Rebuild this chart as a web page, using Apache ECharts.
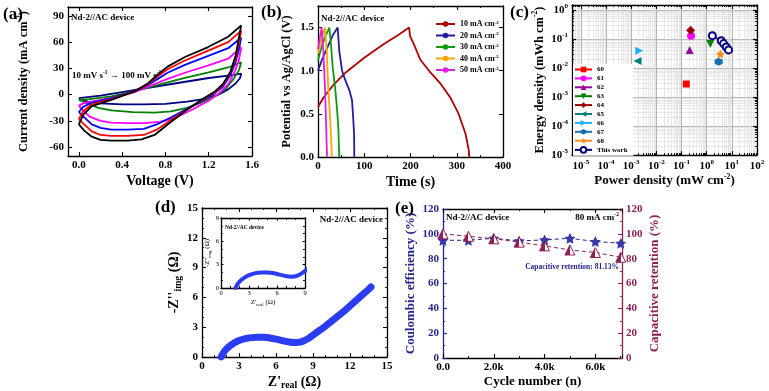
<!DOCTYPE html>
<html>
<head>
<meta charset="utf-8">
<script src="https://cdn.jsdelivr.net/npm/echarts@6.0.0/dist/echarts.min.js"></script>
<style>
  html, body { margin: 0; padding: 0; background: #fff; }
  #chart { width: 769px; height: 391px; }
</style>
</head>
<body>
<div id="chart"></div>
<script>
// ---- (a) CV loops, [V, mA cm-2], forward sweep then reverse ----
const cvBlack = [[0,-34],[0.04,-23],[0.12,-13],[0.3,-6],[0.52,4],[0.64,13],[0.73,23],[0.82,32],[0.98,43],[1.19,54],[1.38,66],[1.5,79],
  [1.48,66],[1.45,45],[1.4,26],[1.33,12],[1.26,4],[1.13,-6],[0.98,-19],[0.82,-34],[0.7,-46],[0.58,-51],[0.45,-52.5],[0.3,-52.5],[0.2,-51.5],[0.12,-48],[0.05,-41],[0,-34]];
const cvRed = [[0,-28],[0.04,-19],[0.12,-11],[0.3,-5],[0.52,4],[0.64,12],[0.73,21],[0.82,29],[0.98,39],[1.19,50],[1.38,60],[1.5,73],
  [1.48,60],[1.45,42],[1.4,25],[1.33,11],[1.26,3],[1.13,-7],[1.0,-17],[0.85,-29],[0.72,-40],[0.6,-46],[0.45,-47],[0.3,-47],[0.2,-46],[0.12,-42],[0.05,-34],[0,-28]];
const cvBlue = [[0,-20],[0.04,-14],[0.12,-9],[0.3,-4],[0.52,4],[0.64,11],[0.73,18],[0.82,25],[0.98,34],[1.19,44],[1.38,53],[1.5,65],
  [1.48,52],[1.45,38],[1.4,22],[1.33,9],[1.26,2],[1.13,-8],[1.0,-16],[0.85,-26],[0.72,-34],[0.6,-39],[0.45,-40],[0.3,-40],[0.2,-38],[0.12,-34],[0.05,-26],[0,-20]];
const cvMagenta = [[0,-12.5],[0.04,-10],[0.15,-7],[0.3,-4],[0.52,3],[0.7,12],[0.82,18],[0.98,25],[1.19,33],[1.38,41],[1.5,54],
  [1.48,40],[1.44,26],[1.38,12],[1.3,2],[1.2,-7],[1.05,-17],[0.9,-26],[0.75,-31],[0.6,-32.5],[0.45,-32.5],[0.3,-32],[0.2,-30],[0.1,-25],[0.04,-18],[0,-12.5]];
const cvGreen = [[0,-6],[0.1,-5],[0.3,-2],[0.52,4],[0.7,10],[0.82,14],[0.98,19],[1.19,25],[1.38,31],[1.5,37],
  [1.48,28],[1.43,18],[1.36,7],[1.26,-2],[1.13,-9],[1.0,-15],[0.85,-19],[0.7,-20.5],[0.5,-20],[0.3,-18],[0.18,-15],[0.08,-10],[0,-6]];
const cvNavy = [[0,-4],[0.2,-1],[0.4,3],[0.6,7],[0.8,11],[1.0,15],[1.2,19],[1.4,22],[1.5,24],
  [1.49,19],[1.45,13],[1.38,6],[1.29,0],[1.15,-5],[1.0,-8],[0.8,-10.5],[0.6,-11],[0.4,-11],[0.2,-10],[0.08,-8],[0,-4]];

// ---- (b) GCD, [s, V] ----
const gcd10 = [[0,0.58],[12,0.69],[34,0.84],[60,0.98],[100,1.15],[140,1.3],[175,1.42],[197,1.5],[199,1.4],[207,1.31],[221,1.13],[243,0.98],[265,0.85],[286,0.69],[304,0.5],[319,0.27],[326,0.08],[327,0]];
const gcd20 = [[0,1.0],[8,1.12],[17,1.23],[32,1.41],[42.5,1.5],[46,1.23],[52,1.0],[59,0.89],[68,0.77],[73.5,0.66],[76,0.46],[78,0.27],[78.5,0]];
const gcd30 = [[0,1.12],[8,1.28],[16,1.4],[24.5,1.5],[28,1.31],[32,1.03],[37,0.8],[41,0.57],[44,0.34],[46,0]];
const gcd40 = [[0,1.2],[7,1.35],[15,1.5],[19,1.23],[22,0.81],[26.6,0.42],[30,0]];
const gcd50 = [[0,1.25],[4,1.38],[8,1.5],[11.5,1.23],[15,0.81],[17.3,0.42],[19.5,0]];
const gcdNames = ['10', '20', '30', '40', '50'];

// ---- (c) Ragone, [mW cm-2, mWh cm-2] ----
const ref60 = [[0.155, 0.0028]];
const ref61 = [[0.24, 0.13]];
const ref62 = [[0.21, 0.042]];
const ref63 = [[1.4, 0.067]];
const ref64 = [[0.23, 0.2]];
const ref65 = [[0.0018, 0.0175]];
const ref66 = [[0.0021, 0.039]];
const ref67 = [[3.0, 0.0165]];
const ref68 = [[3.5, 0.03]];
const thisWork = [[1.68, 0.13], [3.8, 0.087], [4.7, 0.069], [6.0, 0.053], [7.4, 0.042]];

// ---- (d) Nyquist, [Z'real, -Z''img] ----
const nyquist = [[1.55,0],[1.7,0.35],[1.9,0.7],[2.2,1.05],[2.6,1.4],[3.0,1.65],[3.5,1.85],[4.0,1.95],[4.5,2.0],[5.0,1.98],[5.5,1.92],
  [6.0,1.8],[6.5,1.65],[7.0,1.52],[7.4,1.45],[7.8,1.47],[8.2,1.6],[8.6,1.85],[9.0,2.2],[9.5,2.65],[10.0,3.1],[10.5,3.6],[11.0,4.1],
  [11.5,4.6],[12.0,5.15],[12.5,5.7],[13.0,6.25],[13.5,6.8],[13.7,7.05]];

// ---- (e) cycling ----
const cycles = [0, 1000, 2000, 3000, 4000, 5000, 6000, 7000];
const coulombic = [94.8, 94.8, 96.4, 94.3, 95.1, 96.4, 93.8, 92.4];
const retention = [100, 98, 96, 93.3, 90.3, 87, 85, 81.13];

const FONT = "'Liberation Serif','Times New Roman',serif";
const NAVY = '#24248f';
const MAROON = '#8e1f52';
const STAR = 'path://M0,-10L2.94,-4.05L9.51,-3.09L4.76,1.55L5.88,8.09L0,5L-5.88,8.09L-4.76,1.55L-9.51,-3.09L-2.94,-4.05Z';
const HEX = 'path://M0,-10L8.66,-5L8.66,5L0,10L-8.66,5L-8.66,-5Z';

function ax(o) {
  const col = o.color || '#000';
  const a = {
    type: o.log ? 'log' : 'value',
    gridIndex: o.grid,
    position: o.pos,
    min: o.min,
    max: o.max,
    axisLine: { show: true, onZero: false, lineStyle: { color: col, width: 1.3 } },
    axisTick: { show: true, inside: true, length: o.tick || 4, lineStyle: { color: col, width: 1.1 } },
    minorTick: { show: !!o.minor, splitNumber: o.minor || 5, length: 2, lineStyle: { color: col, width: 0.9 } },
    axisLabel: {
      show: !!o.labels, color: col, fontFamily: FONT, fontWeight: o.thin ? 'normal' : 'bold',
      fontSize: o.fs || 11, margin: o.margin || 4, formatter: o.fmt,
      showMinLabel: o.hideMin ? false : null, showMaxLabel: o.hideMax ? false : null,
      rich: o.rich
    },
    splitLine: { show: false }
  };
  if (o.log) a.logBase = 10;
  if (o.interval) a.interval = o.interval;
  if (o.custom) {
    a.axisTick.customValues = o.custom;
    a.axisLabel.customValues = o.custom;
  }
  if (o.name) {
    const fs = o.nfs || 13;
    a.name = o.name;
    a.nameLocation = 'middle';
    a.nameGap = o.gap;
    a.nameTextStyle = {
      fontFamily: FONT, fontWeight: o.thin ? 'normal' : 'bold', fontSize: fs, color: col, lineHeight: Math.round(fs * 1.25),
      rich: {
        s: { fontFamily: FONT, fontWeight: 'bold', fontSize: fs * 0.6, color: col, verticalAlign: 'top', lineHeight: fs * 0.7 },
        u: { fontFamily: FONT, fontWeight: o.thin ? 'normal' : 'bold', fontSize: fs * 0.7, color: col, verticalAlign: 'bottom', lineHeight: fs * 0.7 }
      }
    };
  }
  return a;
}

function logFmt(v) {
  const e = Math.log10(v);
  const r = Math.round(e);
  if (Math.abs(e - r) > 1e-6) return '';
  return '{b|10}{s|' + (r < 0 ? '-' : '') + Math.abs(r) + '}';
}
const logRich = {
  b: { fontFamily: FONT, fontWeight: 'bold', fontSize: 11, lineHeight: 14, color: '#000' },
  s: { fontFamily: FONT, fontWeight: 'bold', fontSize: 7, lineHeight: 8, verticalAlign: 'top', color: '#000' }
};
const one = v => v.toFixed(1);

const grids = [
  { left: 68, top: 7, width: 184, height: 149 },
  { left: 318, top: 6, width: 185, height: 151 },
  { left: 572, top: 5, width: 185, height: 150 },
  { left: 202, top: 208, width: 185, height: 149 },
  { left: 221, top: 218, width: 84, height: 70, show: true, backgroundColor: '#fff', borderWidth: 0 },
  { left: 443, top: 209, width: 179, height: 149 }
].map(g => Object.assign({ containLabel: false, outerBoundsMode: 'none' }, g));

const cGrid = {
  splitLine: { show: true, lineStyle: { color: '#a3a3a3', width: 0.8 } },
  minorSplitLine: { show: true, lineStyle: { color: '#d8d8d8', width: 0.6 } }
};

const xAxes = [
  ax({ grid: 0, pos: 'bottom', min: -0.1, max: 1.6, custom: [0, 0.4, 0.8, 1.2, 1.6], labels: true, fmt: one, name: 'Voltage (V)', gap: 16, nfs: 14 }),
  ax({ grid: 0, pos: 'top', min: -0.1, max: 1.6, custom: [0, 0.4, 0.8, 1.2, 1.6] }),
  ax({ grid: 1, pos: 'bottom', min: 0, max: 400, interval: 100, minor: 2, labels: true, name: 'Time (s)', gap: 16, nfs: 14 }),
  ax({ grid: 1, pos: 'top', min: 0, max: 400, interval: 100, minor: 2 }),
  Object.assign(ax({ grid: 2, pos: 'bottom', log: true, min: Math.pow(10, -5.35), max: 100, minor: 9, labels: true, fmt: logFmt, rich: logRich, hideMin: true,
    name: 'Power density (mW cm{s|-2})', gap: 18, nfs: 13 }), cGrid),
  ax({ grid: 2, pos: 'top', log: true, min: Math.pow(10, -5.35), max: 100, minor: 9 }),
  ax({ grid: 3, pos: 'bottom', min: 0, max: 15, interval: 3, minor: 3, labels: true, name: "Z'{u|real} (Ω)", gap: 14, nfs: 14 }),
  ax({ grid: 3, pos: 'top', min: 0, max: 15, interval: 3, minor: 3 }),
  ax({ grid: 4, pos: 'bottom', min: 0, max: 9, interval: 3, minor: 3, tick: 2.5, labels: true, thin: true, fs: 6.5, margin: 2, name: "Z'{u|real} (Ω)", gap: 9, nfs: 7 }),
  ax({ grid: 4, pos: 'top', min: 0, max: 9, interval: 3, minor: 3, tick: 2.5 }),
  ax({ grid: 5, pos: 'bottom', min: 0, max: 7050, interval: 2000, minor: 2, labels: true, hideMax: true,
    fmt: v => v === 0 ? '0.0' : (v / 1000).toFixed(1) + 'k', name: 'Cycle number (n)', gap: 14, nfs: 13 }),
  ax({ grid: 5, pos: 'top', min: 0, max: 7050, interval: 2000, minor: 2 })
];

const yAxes = [
  ax({ grid: 0, pos: 'left', min: -70, max: 100, custom: [-60, -30, 0, 30, 60, 90], labels: true, name: 'Current density (mA cm{s|-2})', gap: 36, nfs: 12.5 }),
  ax({ grid: 0, pos: 'right', min: -70, max: 100, custom: [-60, -30, 0, 30, 60, 90] }),
  ax({ grid: 1, pos: 'left', min: 0, max: 1.75, custom: [0, 0.5, 1, 1.5], labels: true, fmt: one, name: 'Potential vs Ag/AgCl (V)', gap: 23, nfs: 12.5 }),
  ax({ grid: 1, pos: 'right', min: 0, max: 1.75, custom: [0, 0.5, 1, 1.5] }),
  Object.assign(ax({ grid: 2, pos: 'left', log: true, min: 1e-5, max: Math.pow(10, 0.17), minor: 9, labels: true, fmt: logFmt, rich: logRich, hideMax: true,
    name: 'Energy density (mWh cm{s|-2})', gap: 24, nfs: 12.5 }), cGrid),
  ax({ grid: 2, pos: 'right', log: true, min: 1e-5, max: Math.pow(10, 0.17), minor: 9 }),
  ax({ grid: 3, pos: 'left', min: 0, max: 15, interval: 3, minor: 3, labels: true, name: "-Z''{u|img} (Ω)", gap: 14, nfs: 14 }),
  ax({ grid: 3, pos: 'right', min: 0, max: 15, interval: 3, minor: 3 }),
  ax({ grid: 4, pos: 'left', min: 0, max: 9, interval: 3, minor: 3, tick: 2.5, labels: true, thin: true, fs: 6.5, margin: 2, name: "-Z''{u|img} (Ω)", gap: 7, nfs: 7 }),
  ax({ grid: 4, pos: 'right', min: 0, max: 9, interval: 3, minor: 3, tick: 2.5 }),
  ax({ grid: 5, pos: 'left', min: 0, max: 120, interval: 20, minor: 2, labels: true, color: NAVY, name: 'Coulombic efficiency (%)', gap: 19, nfs: 13 }),
  ax({ grid: 5, pos: 'right', min: 0, max: 120, interval: 20, minor: 2, labels: true, color: MAROON, name: 'Capacitive retention (%)', gap: 21, nfs: 13 })
];

function cvLine(data, color) {
  return { type: 'line', xAxisIndex: 0, yAxisIndex: 0, data: data, symbol: 'none', lineStyle: { color: color, width: 1.8 }, itemStyle: { color: color } };
}
function gcdLine(name, data, color) {
  return { name: name, type: 'line', xAxisIndex: 2, yAxisIndex: 2, data: data, symbol: 'none', lineStyle: { color: color, width: 1.8 }, itemStyle: { color: color } };
}
function ragone(name, data, color, symbol, size, rotate) {
  return {
    name: name, type: 'line', xAxisIndex: 4, yAxisIndex: 4, data: data, symbol: symbol, symbolSize: size || 8,
    symbolRotate: rotate || 0, lineStyle: { color: color, width: 1.5 }, itemStyle: { color: color }, z: 5
  };
}

const series = [
  cvLine(cvNavy, '#000080'),
  cvLine(cvGreen, '#008000'),
  cvLine(cvMagenta, '#ff00ff'),
  cvLine(cvBlue, '#0000ff'),
  cvLine(cvRed, '#ff0000'),
  cvLine(cvBlack, '#000000'),

  gcdLine('10', gcd10, '#b00000'),
  gcdLine('20', gcd20, '#1f1f9e'),
  gcdLine('30', gcd30, '#109a10'),
  gcdLine('40', gcd40, '#ffa500'),
  gcdLine('50', gcd50, '#e020e0'),

  ragone('60', ref60, '#ff0000', 'rect', 7),
  ragone('61', ref61, '#ff00ff', 'circle', 8),
  ragone('62', ref62, '#990099', 'triangle', 8),
  ragone('63', ref63, '#008000', 'triangle', 8, 180),
  ragone('64', ref64, '#990000', 'diamond', 9),
  ragone('65', ref65, '#008080', 'triangle', 8, 90),
  ragone('66', ref66, '#1ab2ff', 'triangle', 8, -90),
  ragone('67', ref67, '#1a6fb0', HEX, 8),
  ragone('68', ref68, '#ff8c1a', STAR, 9),
  {
    name: 'This work', type: 'line', xAxisIndex: 4, yAxisIndex: 4, data: thisWork, symbol: 'emptyCircle', symbolSize: 7,
    lineStyle: { color: '#000080', width: 1.5 }, itemStyle: { color: '#000080', borderWidth: 2.5 }, z: 6
  },

  {
    type: 'line', xAxisIndex: 6, yAxisIndex: 6, data: nyquist, symbol: 'none', smooth: 0.3,
    lineStyle: { color: '#2b3df2', width: 7, cap: 'round' }
  },
  {
    type: 'line', xAxisIndex: 8, yAxisIndex: 8, data: nyquist, symbol: 'none', smooth: 0.3, clip: true,
    lineStyle: { color: '#2b3df2', width: 4, cap: 'round' }
  },

  {
    type: 'line', xAxisIndex: 10, yAxisIndex: 10, data: cycles.map((c, i) => [c, coulombic[i]]),
    symbol: STAR, symbolSize: 11, lineStyle: { color: NAVY, width: 1, type: [4, 3] }, itemStyle: { color: '#3838a8' }, z: 4
  },
  {
    type: 'line', xAxisIndex: 10, yAxisIndex: 11, data: cycles.map((c, i) => [c, retention[i]]),
    symbol: 'triangle', symbolSize: 10, lineStyle: { color: MAROON, width: 1, type: [4, 3] },
    itemStyle: {
      borderColor: MAROON, borderWidth: 1,
      color: { type: 'linear', x: 0, y: 0, x2: 1, y2: 0, colorStops: [
        { offset: 0, color: MAROON }, { offset: 0.5, color: MAROON }, { offset: 0.5, color: '#fff' }, { offset: 1, color: '#fff' }] }
    },
    z: 5
  }
];

function txt(x, y, text, size, extra) {
  const fs = size;
  const fill = (extra && extra.fill) || '#000';
  return Object.assign({
    type: 'text', left: x, top: y, z: 50,
    style: {
      text: text, fontFamily: FONT, fontWeight: 'bold', fontSize: fs, fill: fill,
      lineHeight: fs + 3,
      rich: { s: { fontFamily: FONT, fontWeight: 'bold', verticalAlign: 'top', fontSize: fs * 0.62, lineHeight: fs * 0.7, fill: fill } }
    }
  }, extra && extra.pos);
}

const option = {
  animation: false,
  backgroundColor: '#fff',
  textStyle: { fontFamily: FONT },
  grid: grids,
  xAxis: xAxes,
  yAxis: yAxes,
  legend: [
    {
      data: gcdNames, left: 430, top: 15, orient: 'vertical', itemWidth: 19, itemHeight: 7, itemGap: 3.5,
      formatter: n => n + ' mA cm{s|-2}',
      textStyle: {
        fontFamily: FONT, fontWeight: 'bold', fontSize: 8, color: '#000', lineHeight: 8,
        rich: { s: { fontFamily: FONT, fontWeight: 'bold', fontSize: 5, verticalAlign: 'top', lineHeight: 5 } }
      }
    },
    {
      data: ['60', '61', '62', '63', '64', '65', '66', '67', '68', 'This work'],
      left: 573, top: 64, orient: 'vertical', itemWidth: 17, itemHeight: 7, itemGap: 1.9,
      backgroundColor: '#fff', padding: [2, 6, 2, 1],
      textStyle: { fontFamily: FONT, fontWeight: 'bold', fontSize: 7, color: '#000', lineHeight: 7 }
    }
  ],
  series: series,
  graphic: [
    txt(3, 5, '(a)', 17),
    txt(261, 3, '(b)', 17),
    txt(510, 3, '(c)', 17),
    txt(155, 198, '(d)', 17),
    txt(395, 199, '(e)', 17),
    txt(71, 12, 'Nd-2//AC device', 9),
    txt(72, 70, '10 mV s{s|-1} → 100 mV s{s|-1}', 9),
    txt(321, 13, 'Nd-2//AC device', 9),
    txt(0, 214, 'Nd-2//AC device', 9, { pos: { left: null, right: 388 - 383 + 769 - 388 } }),
    txt(225, 223, 'Nd-2//AC device', 5.5),
    txt(446, 212, 'Nd-2//AC device', 9),
    txt(0, 212, '80 mA cm{s|-2}', 9, { pos: { left: null, right: 150 } }),
    txt(0, 262, 'Capacitive retention: 81.13%', 7.5, { fill: NAVY, pos: { left: null, right: 150 } })
  ]
};

const chart = echarts.init(document.getElementById('chart'), null, { renderer: 'canvas' });
chart.setOption(option);
</script>
</body>
</html>
